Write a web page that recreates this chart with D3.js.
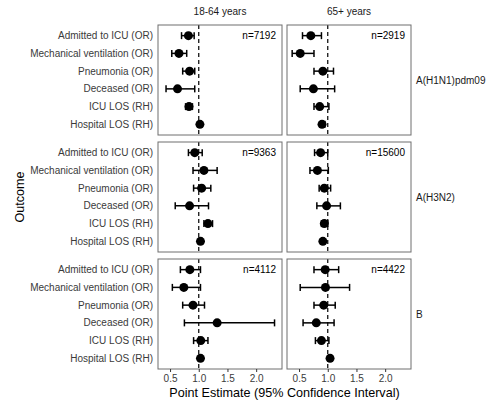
<!DOCTYPE html>
<html>
<head>
<meta charset="utf-8">
<script src="https://cdn.jsdelivr.net/npm/d3@7"></script>
<style>
  body { margin: 0; background: #fff; }
  svg text { font-family: "Liberation Sans", Arial, sans-serif; }
</style>
</head>
<body>
<div id="container"></div>
<script>
// categories
const outcomes = ["Admitted to ICU (OR)", "Mechanical ventilation (OR)", "Pneumonia (OR)",
                  "Deceased (OR)", "ICU LOS (RH)", "Hospital LOS (RH)"];
const ageGroups = ["18-64 years", "65+ years"];
const subtypes = ["A(H1N1)pdm09", "A(H3N2)", "B"];
const xTicks = [0.5, 1.0, 1.5, 2.0];
const xLimits = [0.29, 2.45];

// sample sizes, per subtype then age group
const sampleSizes = [["n=7192", "n=2919"], ["n=9363", "n=15600"], ["n=4112", "n=4422"]];

// [estimate, lower, upper] per outcome
const h1n1Adult = [[0.82, 0.70, 0.92], [0.655, 0.53, 0.79], [0.84, 0.72, 0.93],
                   [0.63, 0.43, 0.93], [0.83, 0.77, 0.89], [1.02, 0.99, 1.04]];
const h1n1Senior = [[0.705, 0.56, 0.89], [0.52, 0.38, 0.76], [0.915, 0.76, 1.10],
                    [0.75, 0.52, 1.12], [0.86, 0.76, 1.02], [0.90, 0.87, 0.95]];
const h3n2Adult = [[0.93, 0.82, 1.06], [1.09, 0.90, 1.32], [1.05, 0.91, 1.21],
                   [0.84, 0.59, 1.17], [1.16, 1.09, 1.24], [1.03, 1.00, 1.06]];
const h3n2Senior = [[0.875, 0.77, 1.00], [0.82, 0.69, 1.01], [0.94, 0.85, 1.05],
                    [0.98, 0.81, 1.22], [0.94, 0.89, 1.00], [0.915, 0.89, 0.94]];
const bAdult = [[0.845, 0.68, 1.03], [0.74, 0.54, 1.03], [0.90, 0.72, 1.10],
                [1.32, 0.75, 2.32], [1.035, 0.91, 1.16], [1.03, 1.00, 1.06]];
const bSenior = [[0.955, 0.76, 1.19], [0.96, 0.52, 1.38], [0.93, 0.76, 1.13],
                 [0.80, 0.57, 1.11], [0.89, 0.785, 1.02], [1.04, 1.01, 1.07]];

const panels = [[h1n1Adult, h1n1Senior], [h3n2Adult, h3n2Senior], [bAdult, bSenior]];

// dimensions
const w = 486;
const h = 402;
const marginLeft = 158;
const marginTop = 25;
const pw = 124;
const ph = 110;
const gapX = 5;
const gapY = 7;

const svg = d3.select("#container")
              .append("svg")
              .attr("width", w)
              .attr("height", h);

const xScale = d3.scaleLinear().domain(xLimits).range([0, pw]);
const yScale = d3.scalePoint().domain(outcomes).range([0, ph]).padding(0.6);

subtypes.forEach(function(sub, r){
    const py = marginTop + r * (ph + gapY);

    // outcome labels on the left
    svg.append("g")
       .selectAll("text")
       .data(outcomes)
       .enter()
       .append("text")
       .attr("x", marginLeft - 5)
       .attr("y", (d) => py + yScale(d))
       .attr("dy", "0.35em")
       .attr("text-anchor", "end")
       .attr("fill", "#3a3a3a")
       .style("font-size", "10px")
       .text((d) => d);

    // subtype strip label on the right
    svg.append("text")
       .attr("x", marginLeft + 2 * pw + gapX + 5)
       .attr("y", py + ph / 2)
       .attr("dy", "0.35em")
       .attr("fill", "#1a1a1a")
       .style("font-size", "10px")
       .text(sub);

    ageGroups.forEach(function(age, c){
        const px = marginLeft + c * (pw + gapX);
        const data = panels[r][c];
        const g = svg.append("g").attr("transform", "translate(" + px + "," + py + ")");

        // reference line at 1
        g.append("line")
         .attr("x1", xScale(1)).attr("x2", xScale(1))
         .attr("y1", 0).attr("y2", ph)
         .attr("stroke", "#000")
         .attr("stroke-width", 1.2)
         .attr("stroke-dasharray", "4,3");

        // error bars
        g.selectAll(".ci")
         .data(data)
         .enter()
         .append("line")
         .attr("x1", (d) => xScale(d[1]))
         .attr("x2", (d) => xScale(d[2]))
         .attr("y1", (d, i) => yScale(outcomes[i]))
         .attr("y2", (d, i) => yScale(outcomes[i]))
         .attr("stroke", "#000")
         .attr("stroke-width", 1.5);

        [1, 2].forEach(function(k){
            g.selectAll(".cap" + k)
             .data(data)
             .enter()
             .append("line")
             .attr("x1", (d) => xScale(d[k]))
             .attr("x2", (d) => xScale(d[k]))
             .attr("y1", (d, i) => yScale(outcomes[i]) - 3.5)
             .attr("y2", (d, i) => yScale(outcomes[i]) + 3.5)
             .attr("stroke", "#000")
             .attr("stroke-width", 1.5);
        });

        // point estimates
        g.selectAll("circle")
         .data(data)
         .enter()
         .append("circle")
         .attr("cx", (d) => xScale(d[0]))
         .attr("cy", (d, i) => yScale(outcomes[i]))
         .attr("r", 4.5)
         .attr("fill", "#000");

        // sample size
        g.append("text")
         .attr("x", pw - 6)
         .attr("y", yScale(outcomes[0]))
         .attr("dy", "0.35em")
         .attr("text-anchor", "end")
         .attr("fill", "#000")
         .style("font-size", "10px")
         .text(sampleSizes[r][c]);

        // panel border
        g.append("rect")
         .attr("width", pw)
         .attr("height", ph)
         .attr("fill", "none")
         .attr("stroke", "#6e6e6e")
         .attr("stroke-width", 1);

        // age group strip on top
        if (r === 0) {
            svg.append("text")
               .attr("x", px + pw / 2)
               .attr("y", marginTop - 10)
               .attr("text-anchor", "middle")
               .attr("fill", "#1a1a1a")
               .style("font-size", "10px")
               .text(age);
        }

        // x axis under the last row
        if (r === subtypes.length - 1) {
            const xAxis = d3.axisBottom(xScale)
                            .tickValues(xTicks)
                            .tickFormat(d3.format(".1f"))
                            .tickSize(3)
                            .tickPadding(3);
            const ax = svg.append("g")
                          .attr("transform", "translate(" + px + "," + (py + ph) + ")")
                          .call(xAxis);
            ax.select(".domain").remove();
            ax.selectAll("line").attr("stroke", "#333");
            ax.selectAll("text")
              .attr("fill", "#3a3a3a")
              .style("font-size", "10px")
              .style("font-family", "'Liberation Sans', Arial, sans-serif");
        }
    });
});

// axis titles
svg.append("text")
   .attr("x", marginLeft + pw + gapX / 2)
   .attr("y", h - 5)
   .attr("text-anchor", "middle")
   .style("font-size", "12.6px")
   .text("Point Estimate (95% Confidence Interval)");

svg.append("text")
   .attr("transform", "translate(24," + (marginTop + (3 * ph + 2 * gapY) / 2) + ")rotate(-90)")
   .attr("text-anchor", "middle")
   .style("font-size", "12.6px")
   .text("Outcome");
</script>
</body>
</html>
